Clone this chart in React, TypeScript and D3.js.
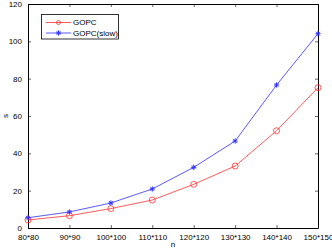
import { useEffect, useRef } from 'react';
import * as d3 from 'd3';

const categories = ['80*80', '90*90', '100*100', '110*110', '120*120', '130*130', '140*140', '150*150'];
const gopc = [4.3, 6.6, 10.4, 15.0, 23.4, 33.2, 52.1, 75.2];
const gopcSlow = [5.5, 8.6, 13.4, 20.9, 32.5, 46.6, 76.6, 104.1];
const yTicks = [0, 20, 40, 60, 80, 100, 120];

const width = 332;
const height = 250;
const margin = { top: 4, right: 14, bottom: 22, left: 28 };

export default function App() {
  const svgRef = useRef<SVGSVGElement | null>(null);

  useEffect(() => {
    if (!svgRef.current) return;
    const svg = d3.select(svgRef.current);
    svg.selectAll('*').remove();

    const x = d3
      .scalePoint<string>()
      .domain(categories)
      .range([margin.left, width - margin.right]);
    const y = d3
      .scaleLinear()
      .domain([0, 120])
      .range([height - margin.bottom, margin.top]);

    const font = 'Liberation Sans, Arial, sans-serif';
    const x0 = margin.left;
    const x1 = width - margin.right;
    const y0 = height - margin.bottom;
    const y1 = margin.top;

    // axes, box style with inward ticks
    const bottom = svg.append('g').attr('transform', `translate(0,${y0})`)
      .call(d3.axisBottom(x).tickSizeInner(-3).tickSizeOuter(0).tickPadding(6));
    const top = svg.append('g').attr('transform', `translate(0,${y1})`)
      .call(d3.axisTop(x).tickSizeInner(-3).tickSizeOuter(0).tickFormat(() => ''));
    const left = svg.append('g').attr('transform', `translate(${x0},0)`)
      .call(d3.axisLeft(y).tickValues(yTicks).tickSizeInner(-3).tickSizeOuter(0).tickPadding(6));
    const right = svg.append('g').attr('transform', `translate(${x1},0)`)
      .call(d3.axisRight(y).tickValues(yTicks).tickSizeInner(-3).tickSizeOuter(0).tickFormat(() => ''));

    [bottom, top, left, right].forEach(g => {
      g.select('.domain').attr('stroke', '#000').attr('stroke-width', 1);
      g.selectAll('.tick line').attr('stroke', '#000').attr('stroke-width', 0.6);
      g.selectAll('text').attr('font-family', font).attr('font-size', 8).attr('fill', '#000');
    });

    svg.append('text')
      .attr('x', (x0 + x1) / 2)
      .attr('y', height - 3)
      .attr('text-anchor', 'middle')
      .attr('font-family', font)
      .attr('font-size', 8)
      .text('n');

    svg.append('text')
      .attr('transform', `translate(8,${(y0 + y1) / 2}) rotate(-90)`)
      .attr('text-anchor', 'middle')
      .attr('font-family', font)
      .attr('font-size', 8)
      .text('s');

    const line = d3.line<number>()
      .x((_, i) => x(categories[i]) as number)
      .y(d => y(d));

    const red = '#ff3030';
    const blue = '#3030ff';

    svg.append('path').datum(gopc)
      .attr('fill', 'none').attr('stroke', red).attr('stroke-width', 0.8).attr('d', line);
    svg.append('path').datum(gopcSlow)
      .attr('fill', 'none').attr('stroke', blue).attr('stroke-width', 0.8).attr('d', line);

    svg.selectAll('circle.m')
      .data(gopc)
      .enter()
      .append('circle')
      .attr('cx', (_, i) => x(categories[i]) as number)
      .attr('cy', d => y(d))
      .attr('r', 3)
      .attr('fill', 'none')
      .attr('stroke', red)
      .attr('stroke-width', 0.8);

    const star = (g: d3.Selection<SVGGElement, unknown, null, undefined>, cx: number, cy: number) => {
      const s = 2.6;
      const d = s * 0.7;
      g.append('path')
        .attr('d', `M${cx - s},${cy}H${cx + s}M${cx},${cy - s}V${cy + s}M${cx - d},${cy - d}L${cx + d},${cy + d}M${cx - d},${cy + d}L${cx + d},${cy - d}`)
        .attr('stroke', blue)
        .attr('stroke-width', 1);
    };
    const stars = svg.append('g');
    gopcSlow.forEach((v, i) => star(stars, x(categories[i]) as number, y(v)));

    // legend
    const lg = svg.append('g');
    lg.append('rect')
      .attr('x', 41.5).attr('y', 14.5).attr('width', 77).attr('height', 24.5)
      .attr('fill', '#fff').attr('stroke', '#000').attr('stroke-width', 0.8);
    const rows = [
      { label: 'GOPC', color: red, y: 22.5, kind: 'circle' },
      { label: 'GOPC(slow)', color: blue, y: 33, kind: 'star' },
    ];
    rows.forEach(r => {
      lg.append('line')
        .attr('x1', 46).attr('x2', 71).attr('y1', r.y).attr('y2', r.y)
        .attr('stroke', r.color).attr('stroke-width', 0.8);
      if (r.kind === 'circle') {
        lg.append('circle').attr('cx', 58.5).attr('cy', r.y).attr('r', 2)
          .attr('fill', 'none').attr('stroke', r.color).attr('stroke-width', 0.8);
      } else {
        star(lg, 58.5, r.y);
      }
      lg.append('text')
        .attr('x', 73).attr('y', r.y).attr('dy', '0.35em')
        .attr('font-family', font).attr('font-size', 8)
        .text(r.label);
    });
  }, []);

  return (
    <svg
      ref={svgRef}
      width={width}
      height={height}
      style={{ position: 'absolute', left: 0, top: 0, background: '#fff' }}
    />
  );
}
